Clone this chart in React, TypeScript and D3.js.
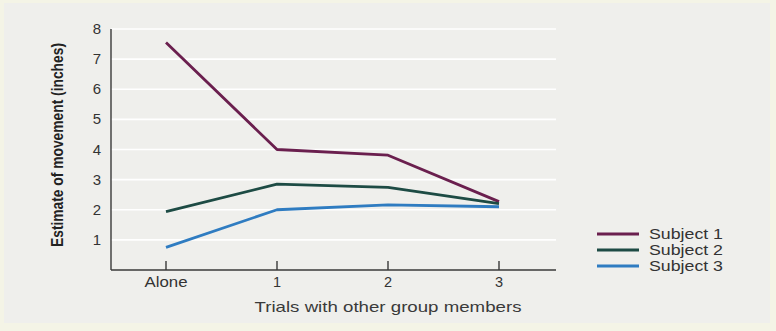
import React from "react";
import * as d3 from "d3";

const categories = ["Alone", "1", "2", "3"];
const seriesNames = ["Subject 1", "Subject 2", "Subject 3"];
const subject1 = [7.55, 4.0, 3.81, 2.27];
const subject2 = [1.94, 2.85, 2.74, 2.2];
const subject3 = [0.75, 2.0, 2.16, 2.1];
const yTicks = [1, 2, 3, 4, 5, 6, 7, 8];
const colors = ["#6a1f4e", "#1d4b44", "#2f7cc1"];

const seriesValues = [subject1, subject2, subject3];

export default function App() {
  const W = 776;
  const H = 331;
  const left = 111;
  const right = 556;
  const x = d3.scalePoint<string>().domain(categories).range([166, 499]);
  const y = d3.scaleLinear().domain([0, 8]).range([270, 29]);
  const line = d3
    .line<number>()
    .x((_, i) => x(categories[i]) as number)
    .y((d) => y(d));

  const font = "'Liberation Sans', Arial, Helvetica, sans-serif";

  return (
    <svg
      width={W}
      height={H}
      style={{ position: "absolute", left: 0, top: 0, display: "block" }}
    >
      <rect x={0} y={0} width={W} height={H} fill="#f4f4e6" />
      <rect x={4} y={3} width={766} height={320} fill="#efefec" />

      {yTicks.map((t) => (
        <line
          key={"g" + t}
          x1={left}
          x2={right}
          y1={y(t)}
          y2={y(t)}
          stroke="#ffffff"
          strokeWidth={1.6}
        />
      ))}

      {/* axes */}
      <line x1={left} x2={left} y1={y(8)} y2={y(0)} stroke="#3a3a3a" strokeWidth={1.4} />
      <line x1={left} x2={right} y1={y(0)} y2={y(0)} stroke="#3a3a3a" strokeWidth={1.4} />

      {categories.map((c) => (
        <g key={"xt" + c}>
          <line
            x1={x(c)}
            x2={x(c)}
            y1={y(0)}
            y2={y(0) - 9}
            stroke="#3a3a3a"
            strokeWidth={1.4}
          />
          <text
            x={x(c)}
            y={287}
            textAnchor="middle"
            fontFamily={font}
            fontSize={14.5}
            fill="#333"
            {...(c.length > 1 ? { textLength: 43, lengthAdjust: "spacingAndGlyphs" } : {})}
          >
            {c}
          </text>
        </g>
      ))}

      {yTicks.map((t) => (
        <text
          key={"yt" + t}
          x={97}
          y={y(t) + 5}
          textAnchor="middle"
          fontFamily={font}
          fontSize={15}
          fill="#333"
        >
          {t}
        </text>
      ))}

      <text
        transform={`translate(63,145) rotate(-90)`}
        textAnchor="middle"
        fontFamily="'Liberation Sans Narrow', 'Arial Narrow', 'Liberation Sans', Arial, sans-serif"
        fontWeight="bold"
        fontSize={16.5}
        fill="#222"
        textLength={204}
        lengthAdjust="spacingAndGlyphs"
      >
        Estimate of movement (inches)
      </text>

      <text
        x={388}
        y={312}
        textAnchor="middle"
        fontFamily={font}
        fontSize={15}
        fill="#3a3a3a"
        textLength={267}
        lengthAdjust="spacingAndGlyphs"
      >
        Trials with other group members
      </text>

      {seriesValues.map((vals, i) => (
        <path
          key={"s" + i}
          d={line(vals) || ""}
          fill="none"
          stroke={colors[i]}
          strokeWidth={2.8}
          strokeLinejoin="round"
        />
      ))}

      {seriesNames.map((n, i) => {
        const ly = 234 + i * 16;
        return (
          <g key={"lg" + i}>
            <line x1={597} x2={639} y1={ly} y2={ly} stroke={colors[i]} strokeWidth={3} />
            <text
              x={649}
              y={ly + 5}
              fontFamily={font}
              fontSize={15}
              fill="#333"
              textLength={74}
              lengthAdjust="spacingAndGlyphs"
            >
              {n}
            </text>
          </g>
        );
      })}
    </svg>
  );
}
